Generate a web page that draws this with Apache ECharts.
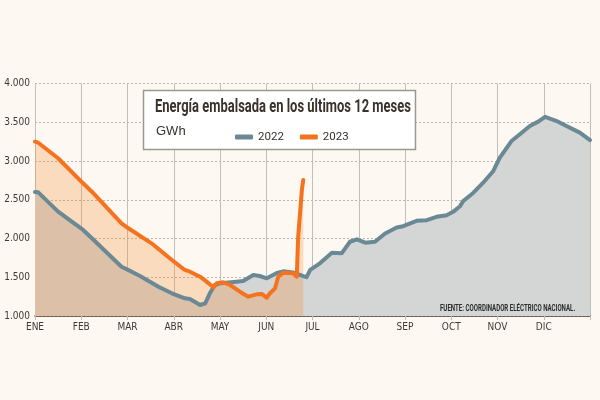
<!DOCTYPE html>
<html>
<head>
<meta charset="utf-8">
<script src="https://cdn.jsdelivr.net/npm/echarts@6/dist/echarts.min.js"></script>
<style>
  html, body { margin: 0; padding: 0; background: #fdf8f2; }
  #chart { width: 600px; height: 400px; }
</style>
</head>
<body>
<div id="chart"></div>
<script>
// etiquetas del eje x (inicio de cada mes)
var meses = ['ENE', 'FEB', 'MAR', 'ABR', 'MAY', 'JUN', 'JUL', 'AGO', 'SEP', 'OCT', 'NOV', 'DIC']
var yTicks = [1000, 1500, 2000, 2500, 3000, 3500, 4000]

// 2022: posicion en meses (0 = 1 ene) y GWh
var mes2022 = [0, 0.07, 0.5, 1.04, 1.23, 1.87, 2.09, 2.27, 2.67, 2.96, 3.24, 3.35, 3.57, 3.68, 3.78, 3.89,
  4.0, 4.36, 4.5, 4.72, 4.86, 5.01, 5.23, 5.37, 5.58, 5.8, 5.87, 5.95, 6.16, 6.42, 6.63, 6.81, 6.96,
  7.14, 7.35, 7.57, 7.82, 7.96, 8.25, 8.47, 8.68, 8.9, 9.04, 9.19, 9.26, 9.48, 9.69, 9.91, 10.05,
  10.31, 10.49, 10.7, 10.88, 11.03, 11.28, 11.49, 11.78, 12]
var gwh2022 = [2600, 2596, 2346, 2110, 2003, 1636, 1572, 1516, 1378, 1293, 1228, 1220, 1142, 1164, 1293, 1400,
  1422, 1443, 1452, 1529, 1516, 1486, 1555, 1576, 1563, 1516, 1500, 1594, 1680, 1817, 1809, 1958, 1989,
  1946, 1958, 2065, 2142, 2159, 2228, 2237, 2280, 2301, 2344, 2417, 2484, 2591, 2720, 2871, 3043,
  3262, 3348, 3452, 3508, 3570, 3516, 3452, 3366, 3270]

// 2023
var mes2023 = [0, 0.07, 0.5, 1.04, 1.23, 1.87, 2.02, 2.52, 2.96, 3.24, 3.35, 3.57, 3.71, 3.86, 3.93,
  4.07, 4.22, 4.43, 4.61, 4.79, 4.9, 5.01, 5.08, 5.19, 5.26, 5.37, 5.58, 5.66, 5.69, 5.77, 5.8]
var gwh2023 = [3249, 3236, 3035, 2712, 2604, 2196, 2132, 1938, 1723, 1594, 1572, 1507, 1443, 1370, 1422,
  1435, 1400, 1314, 1249, 1280, 1285, 1236, 1293, 1357, 1507, 1559, 1551, 1507, 2023, 2626, 2755]

function pares(xs, ys) {
  return xs.map(function (x, i) { return [x, ys[i]] })
}

var gris = '#6b8994'
var naranjo = '#f5731e'
var angosta = '"DejaVu Sans Condensed", Roboto, sans-serif'

var chart = echarts.init(document.getElementById('chart'))
chart.setOption({
  backgroundColor: '#fdf8f2',
  animation: false,
  grid: { left: 35, right: 10, top: 83.5, bottom: 84 },
  legend: {
    data: ['2022', '2023'],
    left: 235,
    top: 131,
    padding: 0,
    icon: 'roundRect',
    itemWidth: 18,
    itemHeight: 5,
    itemGap: 16,
    z: 60,
    textStyle: { fontFamily: 'Roboto', fontSize: 11.5, color: '#38312c' }
  },
  graphic: [
    {
      type: 'rect',
      z: 50,
      shape: { x: 143.5, y: 90.5, width: 272, height: 59 },
      style: { fill: '#ffffff', stroke: '#9b9793', lineWidth: 1.5 }
    },
    {
      type: 'text',
      z: 55,
      x: 155,
      y: 107,
      scaleX: 0.72,
      style: {
        text: 'Energía embalsada en los últimos 12 meses',
        font: 'bold 18px Roboto',
        fill: '#38312c',
        verticalAlign: 'middle'
      }
    },
    {
      type: 'text',
      z: 55,
      x: 156,
      y: 131,
      style: { text: 'GWh', font: '13px "Liberation Sans"', fill: '#38312c', verticalAlign: 'middle' }
    },
    {
      type: 'text',
      z: 55,
      x: 440,
      y: 309,
      scaleX: 0.72,
      style: {
        text: 'FUENTE: COORDINADOR ELÉCTRICO NACIONAL.',
        font: 'bold 8.5px Roboto',
        fill: '#2b2b2b',
        verticalAlign: 'middle'
      }
    }
  ],
  xAxis: {
    type: 'value',
    min: 0,
    max: 12,
    interval: 1,
    axisLine: { lineStyle: { color: '#4d3f35', width: 1.5 } },
    axisTick: { show: true, length: 4, lineStyle: { color: '#c4beb8' } },
    splitLine: { show: true, lineStyle: { color: '#c4beb8', width: 1 } },
    axisLabel: {
      margin: 6,
      fontFamily: angosta,
      fontSize: 10,
      color: '#3d3935',
      formatter: function (v) { return meses[v] || '' }
    }
  },
  yAxis: {
    type: 'value',
    min: yTicks[0],
    max: yTicks[yTicks.length - 1],
    interval: 500,
    axisLine: { show: false },
    axisTick: { show: false },
    splitLine: { lineStyle: { color: '#bdb5ad', type: [2, 2] } },
    axisLabel: {
      margin: 5,
      fontFamily: angosta,
      fontSize: 10,
      color: '#3d3935',
      formatter: function (v) { return String(v).replace(/(\d)(\d{3})$/, '$1.$2') }
    }
  },
  series: [
    // rellenos primero, luego las lineas encima
    {
      name: 'area2022',
      type: 'line',
      data: pares(mes2022, gwh2022),
      showSymbol: false,
      lineStyle: { width: 0 },
      areaStyle: { color: '#d4d6d6', opacity: 1 },
      z: 2
    },
    {
      name: 'area2023',
      type: 'line',
      data: pares(mes2023, gwh2023),
      showSymbol: false,
      lineStyle: { width: 0 },
      areaStyle: { color: 'rgba(245,130,30,0.25)', opacity: 1 },
      z: 3
    },
    {
      name: '2022',
      type: 'line',
      data: pares(mes2022, gwh2022),
      showSymbol: false,
      color: gris,
      lineStyle: { width: 4, color: gris, cap: 'round', join: 'round' },
      z: 4
    },
    {
      name: '2023',
      type: 'line',
      data: pares(mes2023, gwh2023),
      showSymbol: false,
      color: naranjo,
      lineStyle: { width: 4, color: naranjo, cap: 'round', join: 'round' },
      z: 5
    }
  ]
})
</script>
</body>
</html>
